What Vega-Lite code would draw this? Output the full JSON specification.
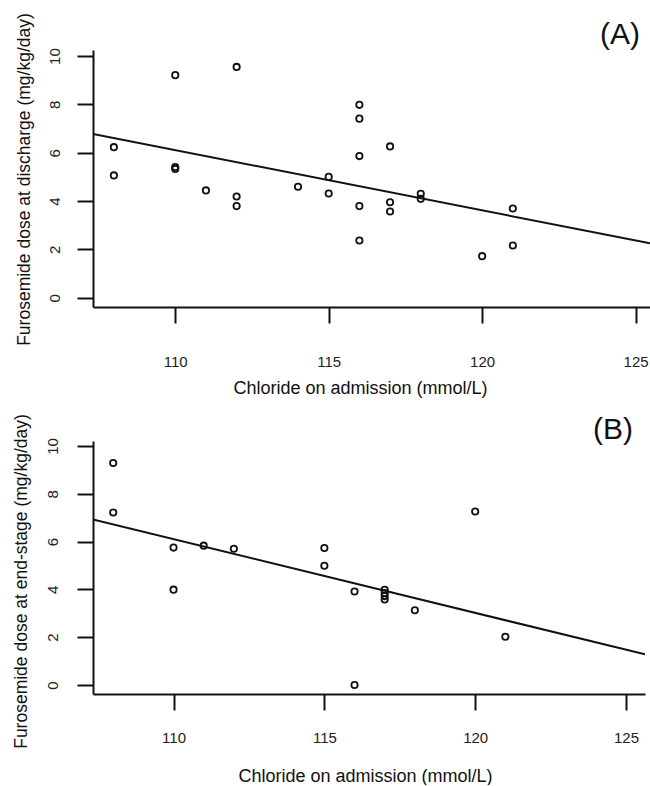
{
  "$schema": "https://vega.github.io/schema/vega-lite/v6.json",
  "background": "white",
  "padding": {"left": 11, "top": 12, "right": 0, "bottom": 0},
  "spacing": 134,
  "bounds": "flush",
  "config": {
    "view": {"stroke": null},
    "font": "Liberation Sans",
    "axis": {
      "grid": false,
      "domainColor": "#111",
      "domainWidth": 2,
      "tickColor": "#111",
      "tickWidth": 2,
      "tickSize": 16,
      "labelFont": "Liberation Sans",
      "labelFontSize": 15,
      "labelColor": "#222",
      "titleFont": "Liberation Sans",
      "titleFontSize": 17.5,
      "titleFontWeight": "normal",
      "titleColor": "#111"
    }
  },
  "datasets": {
    "a": [
      {"chloride": 108, "dose": 6.23},
      {"chloride": 108, "dose": 5.06},
      {"chloride": 110, "dose": 9.21},
      {"chloride": 110, "dose": 5.41},
      {"chloride": 110, "dose": 5.33},
      {"chloride": 111, "dose": 4.44},
      {"chloride": 112, "dose": 9.55},
      {"chloride": 112, "dose": 4.19},
      {"chloride": 112, "dose": 3.79},
      {"chloride": 114, "dose": 4.59},
      {"chloride": 115, "dose": 5.0},
      {"chloride": 115, "dose": 4.31},
      {"chloride": 116, "dose": 7.98},
      {"chloride": 116, "dose": 7.41},
      {"chloride": 116, "dose": 5.86},
      {"chloride": 116, "dose": 3.79},
      {"chloride": 116, "dose": 2.37},
      {"chloride": 117, "dose": 6.26},
      {"chloride": 117, "dose": 3.95},
      {"chloride": 117, "dose": 3.57},
      {"chloride": 118, "dose": 4.3},
      {"chloride": 118, "dose": 4.09},
      {"chloride": 120, "dose": 1.72},
      {"chloride": 121, "dose": 3.69},
      {"chloride": 121, "dose": 2.16}
    ],
    "lineA": [
      {"chloride": 107.32, "dose": 6.78},
      {"chloride": 125.47, "dose": 2.25}
    ],
    "b": [
      {"chloride": 108, "dose": 9.29},
      {"chloride": 108, "dose": 7.22},
      {"chloride": 110, "dose": 5.75},
      {"chloride": 110, "dose": 3.99},
      {"chloride": 111, "dose": 5.83},
      {"chloride": 112, "dose": 5.7},
      {"chloride": 115, "dose": 5.73},
      {"chloride": 115, "dose": 4.99},
      {"chloride": 116, "dose": 3.91},
      {"chloride": 116, "dose": 0.0},
      {"chloride": 117, "dose": 3.98},
      {"chloride": 117, "dose": 3.85},
      {"chloride": 117, "dose": 3.72},
      {"chloride": 117, "dose": 3.58},
      {"chloride": 118, "dose": 3.13},
      {"chloride": 120, "dose": 7.26},
      {"chloride": 121, "dose": 2.02}
    ],
    "lineB": [
      {"chloride": 107.33, "dose": 6.93},
      {"chloride": 125.63, "dose": 1.28}
    ]
  },
  "vconcat": [
    {
      "width": 557,
      "height": 257,
      "title": {"text": "(A)", "anchor": "end", "frame": "group", "fontSize": 30, "fontWeight": "normal", "font": "Liberation Sans", "color": "#111", "baseline": "alphabetic", "offset": -61, "dx": -10},
      "layer": [
        {
          "data": {"name": "a"},
          "mark": {"type": "point", "shape": "circle", "filled": false, "stroke": "#111", "strokeWidth": 1.8, "size": 40, "opacity": 1},
          "encoding": {
            "x": {"field": "chloride", "type": "quantitative", "scale": {"domain": [107.32, 125.47], "nice": false, "zero": false},
              "axis": {"title": "Chloride on admission (mmol/L)", "titleFontSize": 18, "values": [110, 115, 120, 125], "labelBaseline": "middle", "labelPadding": 38, "titleBaseline": "middle", "titleX": 267, "titleY": 81}},
            "y": {"field": "dose", "type": "quantitative", "scale": {"domain": [-0.384, 10.25], "nice": false, "zero": false},
              "axis": {"title": "Furosemide dose at discharge (mg/kg/day)", "values": [0, 2, 4, 6, 8, 10], "labelAngle": -90, "labelAlign": "center", "labelBaseline": "middle", "labelPadding": 23, "titleAngle": -90, "titleAlign": "center", "titleBaseline": "middle", "titleX": -68.5, "titleY": 129}}
          }
        },
        {
          "data": {"name": "lineA"},
          "mark": {"type": "line", "color": "#111", "strokeWidth": 2, "clip": true},
          "encoding": {
            "x": {"field": "chloride", "type": "quantitative"},
            "y": {"field": "dose", "type": "quantitative"}
          }
        }
      ]
    },
    {
      "width": 552,
      "height": 253,
      "title": {"text": "(B)", "anchor": "end", "frame": "group", "fontSize": 30, "fontWeight": "normal", "font": "Liberation Sans", "color": "#111", "baseline": "alphabetic", "offset": -55, "dx": -12},
      "layer": [
        {
          "data": {"name": "b"},
          "mark": {"type": "point", "shape": "circle", "filled": false, "stroke": "#111", "strokeWidth": 1.8, "size": 40, "opacity": 1},
          "encoding": {
            "x": {"field": "chloride", "type": "quantitative", "scale": {"domain": [107.33, 125.63], "nice": false, "zero": false},
              "axis": {"title": "Chloride on admission (mmol/L)", "titleFontSize": 18, "values": [110, 115, 120, 125], "labelBaseline": "middle", "labelPadding": 27, "titleBaseline": "middle", "titleX": 272, "titleY": 82}},
            "y": {"field": "dose", "type": "quantitative", "scale": {"domain": [-0.377, 10.21], "nice": false, "zero": false},
              "axis": {"title": "Furosemide dose at end-stage (mg/kg/day)", "values": [0, 2, 4, 6, 8, 10], "labelAngle": -90, "labelAlign": "center", "labelBaseline": "middle", "labelPadding": 24.5, "titleAngle": -90, "titleAlign": "center", "titleBaseline": "middle", "titleX": -72, "titleY": 140}}
          }
        },
        {
          "data": {"name": "lineB"},
          "mark": {"type": "line", "color": "#111", "strokeWidth": 2, "clip": true},
          "encoding": {
            "x": {"field": "chloride", "type": "quantitative"},
            "y": {"field": "dose", "type": "quantitative"}
          }
        }
      ]
    }
  ]
}
